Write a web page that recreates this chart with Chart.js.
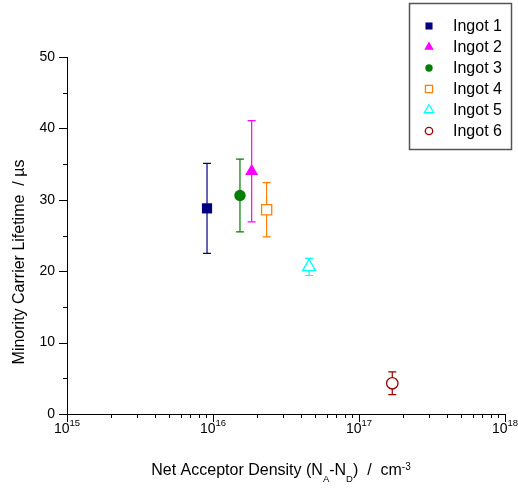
<!DOCTYPE html>
<html>
<head>
<meta charset="utf-8">
<script src="https://cdn.jsdelivr.net/npm/chart.js@4.4.0/dist/chart.umd.min.js"></script>
<style>
	html, body { margin: 0; padding: 0; background: #fff; }
	#wrap { width: 518px; height: 488px; }
</style>
</head>
<body>
<div id="wrap"><canvas id="lifetimeChart" width="518" height="488"></canvas></div>
<script>
// Data
const ingotNames = [ 'Ingot 1', 'Ingot 2', 'Ingot 3', 'Ingot 4', 'Ingot 5', 'Ingot 6' ];
const acceptorDensity = [ 9.1e15, 1.84e16, 1.53e16, 2.33e16, 4.55e16, 1.69e17 ];
const lifetime = [ 28.8, 34.0, 30.6, 28.6, 20.6, 4.3 ];
const lifetimeError = [ 6.3, 7.1, 5.1, 3.8, 1.2, 1.6 ];
const markerColors = [ '#000080', '#ff00ff', '#008000', '#ff8000', '#00ffff', '#990000' ];
const markerStyles = [ 'rect', 'triangle', 'circle', 'rect', 'triangle', 'circle' ];
const markerFilled = [ true, true, true, false, false, false ];
const yTickValues = [ 0, 10, 20, 30, 40, 50 ];
const xDecades = [ 15, 16, 17, 18 ];

const FONT = '"Liberation Sans", Arial, Helvetica, sans-serif';
const markerRadius = { rect: 7.2, triangle: 7.5, circle: 5.7 };
const legendRadius = { rect: 5, triangle: 5.5, circle: 3.7 };

function drawMarker( ctx, style, x, y, r, color, filled ) {
	ctx.save();
	ctx.beginPath();
	if ( style === 'rect' ) {
		const s = r * Math.SQRT1_2;
		ctx.rect( x - s, y - s, 2 * s, 2 * s );
	} else if ( style === 'triangle' ) {
		ctx.moveTo( x, y - r );
		ctx.lineTo( x + r * 0.866, y + r / 2 );
		ctx.lineTo( x - r * 0.866, y + r / 2 );
		ctx.closePath();
	} else {
		ctx.arc( x, y, r, 0, Math.PI * 2 );
	}
	ctx.fillStyle = filled ? color : '#fff';
	ctx.fill();
	if ( ! filled ) {
		ctx.strokeStyle = color;
		ctx.lineWidth = 1.3;
		ctx.stroke();
	}
	ctx.restore();
}

// vertical error bars, drawn under the markers
const errorBars = {
	id: 'errorBars',
	beforeDatasetsDraw( chart ) {
		const { ctx, scales } = chart;
		ctx.save();
		ctx.lineWidth = 1.2;
		lifetime.forEach( ( v, i ) => {
			const x = scales.x.getPixelForValue( acceptorDensity[ i ] );
			const top = scales.y.getPixelForValue( v + lifetimeError[ i ] );
			const bot = scales.y.getPixelForValue( v - lifetimeError[ i ] );
			ctx.strokeStyle = markerColors[ i ];
			ctx.beginPath();
			ctx.moveTo( x, top );
			ctx.lineTo( x, bot );
			ctx.moveTo( x - 4, top );
			ctx.lineTo( x + 4, top );
			ctx.moveTo( x - 4, bot );
			ctx.lineTo( x + 4, bot );
			ctx.stroke();
		} );
		ctx.restore();
	},
};

// tick marks, log tick labels, axis titles and the boxed legend
const decorations = {
	id: 'decorations',
	afterDraw( chart ) {
		const { ctx, scales, chartArea } = chart;
		const xs = scales.x;
		const ys = scales.y;
		ctx.save();
		ctx.strokeStyle = '#000';
		ctx.lineWidth = 1;
		ctx.beginPath();
		for ( let v = 0; v <= 50; v += 5 ) {
			const y = Math.round( ys.getPixelForValue( v ) ) + 0.5;
			const len = v % 10 === 0 ? 8 : 4;
			ctx.moveTo( chartArea.left - len, y );
			ctx.lineTo( chartArea.left, y );
		}
		xDecades.forEach( ( e, k ) => {
			const maxM = k === xDecades.length - 1 ? 1 : 9;
			for ( let m = 1; m <= maxM; m++ ) {
				const x = Math.round( xs.getPixelForValue( m * Math.pow( 10, e ) ) ) + 0.5;
				const len = m === 1 ? 8 : 4;
				ctx.moveTo( x, chartArea.bottom );
				ctx.lineTo( x, chartArea.bottom + len );
			}
		} );
		ctx.stroke();

		// x tick labels 10^n
		ctx.fillStyle = '#000';
		ctx.textBaseline = 'alphabetic';
		ctx.textAlign = 'left';
		xDecades.forEach( ( e ) => {
			const x = xs.getPixelForValue( Math.pow( 10, e ) );
			ctx.font = '14px ' + FONT;
			const wBase = ctx.measureText( '10' ).width;
			ctx.font = '9.5px ' + FONT;
			const wExp = ctx.measureText( String( e ) ).width;
			const start = x - ( wBase + wExp ) / 2;
			ctx.font = '14px ' + FONT;
			ctx.fillText( '10', start, 433 );
			ctx.font = '9.5px ' + FONT;
			ctx.fillText( String( e ), start + wBase, 426 );
		} );

		// x axis title with sub/superscripts
		const parts = [
			[ 'Net Acceptor Density (N', 16, 0 ],
			[ 'A', 9.5, 6.5 ],
			[ '-N', 16, 0 ],
			[ 'D', 9.5, 6.5 ],
			[ ')  /  cm', 16, 0 ],
			[ '-3', 10, -5 ],
		];
		let total = 0;
		parts.forEach( ( p ) => {
			ctx.font = p[ 1 ] + 'px ' + FONT;
			total += ctx.measureText( p[ 0 ] ).width;
		} );
		let cx = 281 - total / 2;
		parts.forEach( ( p ) => {
			ctx.font = p[ 1 ] + 'px ' + FONT;
			ctx.fillText( p[ 0 ], cx, 475 + p[ 2 ] );
			cx += ctx.measureText( p[ 0 ] ).width;
		} );

		// y axis title
		ctx.save();
		ctx.translate( 24, 262 );
		ctx.rotate( -Math.PI / 2 );
		ctx.textAlign = 'center';
		ctx.font = '16px ' + FONT;
		ctx.fillText( 'Minority Carrier Lifetime  / \u00b5s', 0, 0 );
		ctx.restore();

		// legend box
		ctx.strokeStyle = '#555';
		ctx.lineWidth = 1.5;
		ctx.strokeRect( 409.5, 3.5, 102, 146 );
		ctx.font = '16px ' + FONT;
		ctx.textBaseline = 'middle';
		ctx.textAlign = 'left';
		ingotNames.forEach( ( name, i ) => {
			const y = 26 + i * 21;
			drawMarker( ctx, markerStyles[ i ], 429, y, legendRadius[ markerStyles[ i ] ], markerColors[ i ], markerFilled[ i ] );
			ctx.fillStyle = '#000';
			ctx.fillText( name, 453, y + 1 );
		} );
		ctx.restore();
	},
};

const datasets = ingotNames.map( ( name, i ) => ( {
	label: name,
	data: [ { x: acceptorDensity[ i ], y: lifetime[ i ] } ],
	pointStyle: markerStyles[ i ],
	pointRadius: markerRadius[ markerStyles[ i ] ],
	pointBackgroundColor: markerFilled[ i ] ? markerColors[ i ] : '#fff',
	pointBorderColor: markerColors[ i ],
	pointBorderWidth: markerFilled[ i ] ? 0 : 1.3,
	showLine: false,
	clip: false,
} ) );

new Chart( document.getElementById( 'lifetimeChart' ).getContext( '2d' ), {
	type: 'scatter',
	data: { datasets },
	options: {
		responsive: false,
		animation: false,
		events: [],
		layout: { padding: { top: 57, right: 13, left: 0, bottom: 0 } },
		plugins: {
			legend: { display: false },
			tooltip: { enabled: false },
		},
		scales: {
			x: {
				type: 'logarithmic',
				min: 1e15,
				max: 1e18,
				grid: { display: false, drawTicks: false },
				border: { display: true, color: '#000', width: 1 },
				ticks: { display: false },
				afterFit( scale ) {
					scale.height = 74;
				},
			},
			y: {
				type: 'linear',
				min: 0,
				max: 50,
				afterBuildTicks( scale ) {
					scale.ticks = yTickValues.map( ( v ) => ( { value: v } ) );
				},
				grid: { display: false, drawTicks: false },
				border: { display: true, color: '#000', width: 1 },
				ticks: {
					padding: 12,
					color: '#000',
					font: { family: FONT, size: 14 },
				},
				afterFit( scale ) {
					scale.width = 67;
				},
			},
		},
	},
	plugins: [ errorBars, decorations ],
} );
</script>
</body>
</html>
